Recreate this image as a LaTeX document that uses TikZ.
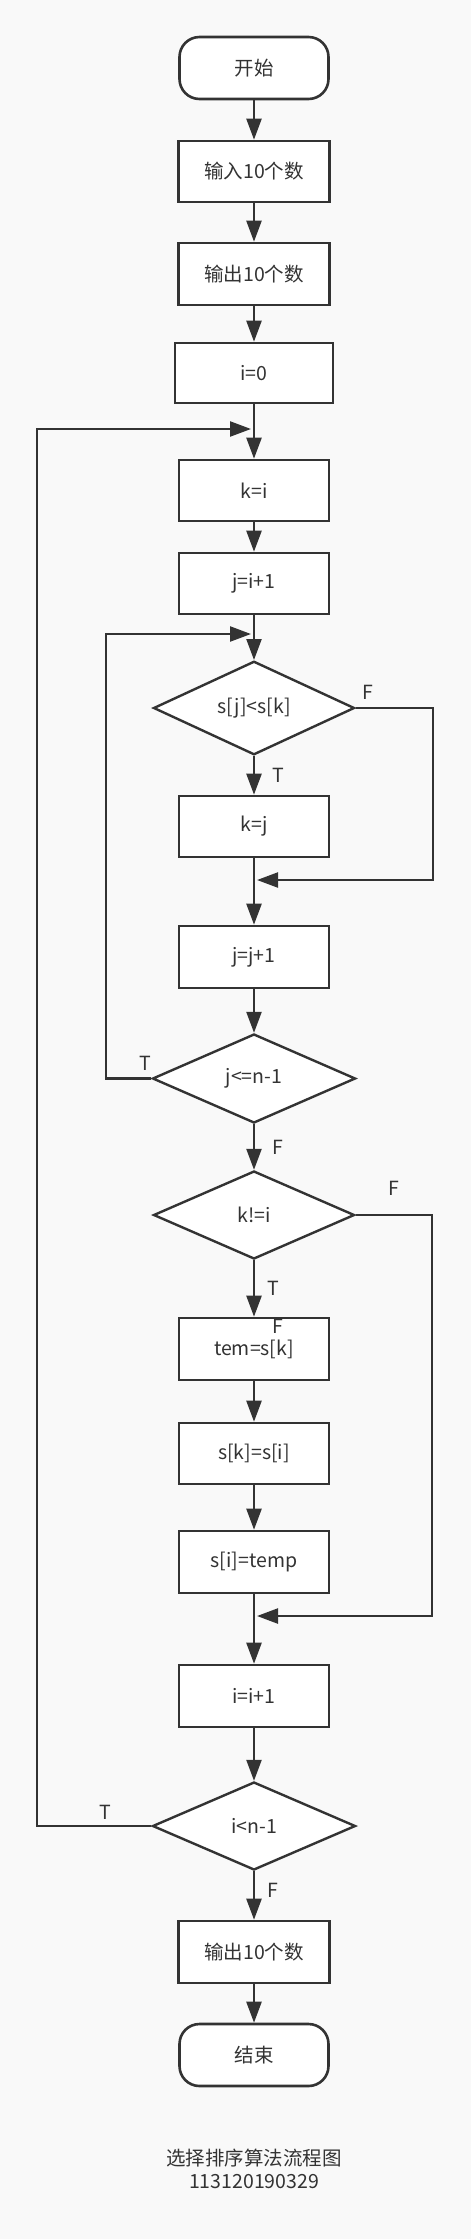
\documentclass[tikz,border=0pt]{standalone}
\usepackage{fontspec}
\setmainfont{Noto Sans CJK SC}
\usetikzlibrary{shapes.geometric,arrows.meta}
\definecolor{ln}{HTML}{333333}
\definecolor{bg}{HTML}{F9F9F9}
\begin{document}
\begin{tikzpicture}[x=1pt,y=-1pt,
  every node/.style={font=\fontsize{19.5}{23}\selectfont, text=ln},
  proc/.style={draw=ln, fill=white, line width=2.6pt, minimum width=150pt, minimum height=61pt, inner sep=0pt},
  term/.style={proc, rounded corners=20pt, minimum width=149pt, minimum height=62pt},
  dec/.style={diamond, draw=ln, fill=white, line width=2.4pt, minimum width=201pt, minimum height=88pt, inner sep=0pt},
  conn/.style={draw=ln, line width=2.3pt, -{Triangle[length=21pt,width=15pt]}},
  lab/.style={inner sep=0pt}
]
\fill[bg] (0,0) rectangle (471,2239);
\useasboundingbox (0,0) rectangle (471,2239);

\node[term] (start) at (254,68) {开始};
\node[proc, minimum width=151pt] (in) at (254,171.5) {输入10个数};
\node[proc, minimum width=151pt, minimum height=62pt] (out1) at (254,274) {输出10个数};
\node[proc, minimum width=158pt, minimum height=60pt] (i0) at (254,373) {i=0};
\node[proc] (ki) at (254,490.5) {k=i};
\node[proc] (ji1) at (254,583.5) {j=i+1};
\node[dec] (d1) at (254,708) {s[j]<s[k]};
\node[proc] (kj) at (254,826.5) {k=j};
\node[proc, minimum height=62pt] (jj1) at (254,957) {j=j+1};
\node[dec, minimum width=203pt, minimum height=89pt] (d2) at (254,1078.5) {j<=n-1};
\node[dec] (d3) at (254,1215) {k!=i};
\node[proc, minimum height=62pt] (tem) at (254,1349) {tem=s[k]};
\node[proc] (ski) at (254,1453.5) {s[k]=s[i]};
\node[proc, minimum height=62pt] (sit) at (254,1562) {s[i]=temp};
\node[proc, minimum height=62pt] (ii1) at (254,1696) {i=i+1};
\node[dec, minimum width=203pt] (d4) at (254,1826) {i<n-1};
\node[proc, minimum width=151pt, minimum height=62pt] (out2) at (254,1952) {输出10个数};
\node[term] (end) at (254,2055) {结束};

\coordinate (c1) at (37,429);   \coordinate (m1) at (251,429);
\coordinate (c2) at (106,634);  \coordinate (m2) at (251,634);
\coordinate (c3) at (433,880);  \coordinate (m3) at (257,880);
\coordinate (c4) at (432,1616); \coordinate (m4) at (257,1616);

\draw[conn] (start) -- (in);
\draw[conn] (in) -- (out1);
\draw[conn] (out1) -- (i0);
\draw[conn] (i0) -- (ki);
\draw[conn] (ki) -- (ji1);
\draw[conn] (ji1) -- (d1);
\draw[conn] (d1) -- (kj);
\draw[conn] (kj) -- (jj1);
\draw[conn] (jj1) -- (d2);
\draw[conn] (d2) -- (d3);
\draw[conn] (d3) -- (tem);
\draw[conn] (tem) -- (ski);
\draw[conn] (ski) -- (sit);
\draw[conn] (sit) -- (ii1);
\draw[conn] (ii1) -- (d4);
\draw[conn] (d4) -- (out2);
\draw[conn] (out2) -- (end);

\draw[conn] (d4.west) -| (c1) -- (m1);
\draw[conn] (d2.west) -| (c2) -- (m2);
\draw[conn] (d1.east) -| (c3) -- (m3);
\draw[conn] (d3.east) -| (c4) -- (m4);

\node[lab] (lf1) at (368,692) {F};
\node[lab] (lt1) at (278,775) {T};
\node[lab] (lt2) at (145,1063) {T};
\node[lab] (lf2) at (278,1147) {F};
\node[lab] (lf3) at (394,1188) {F};
\node[lab] (lt3) at (273,1288) {T};
\node[lab] (lf4) at (278,1326) {F};
\node[lab] (lt4) at (105,1812) {T};
\node[lab] (lf5) at (273,1890) {F};

\node[lab] (cap1) at (254,2158) {选择排序算法流程图};
\node[lab] (cap2) at (254,2182) {113120190329};
\end{tikzpicture}
\end{document}
